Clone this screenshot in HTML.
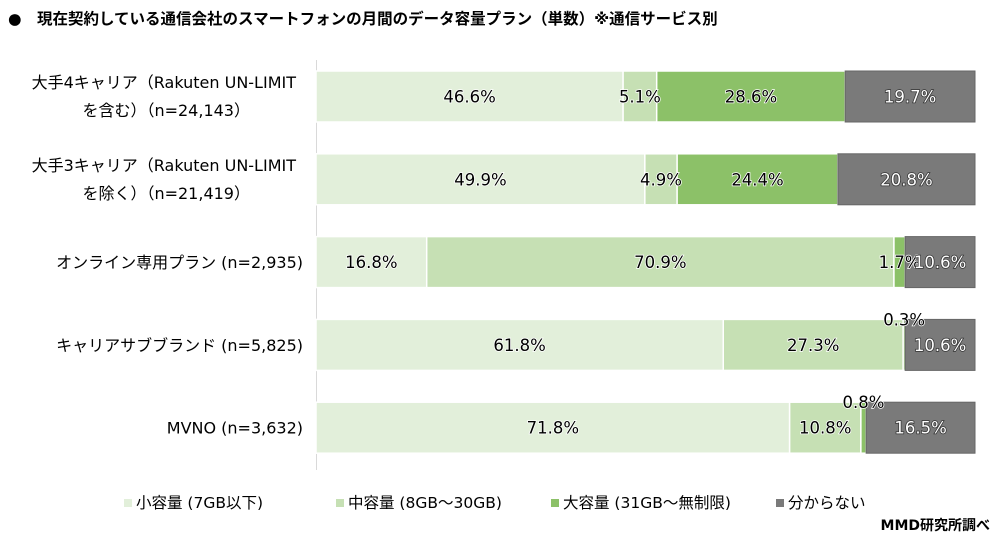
<!DOCTYPE html>
<html><head><meta charset="utf-8"><style>
body{margin:0;background:#fff;width:1000px;height:544px;overflow:hidden;font-family:"DejaVu Sans","Noto Sans CJK JP",sans-serif}
svg text{font-family:"DejaVu Sans","Noto Sans CJK JP",sans-serif}
</style></head><body>
<svg width="1000" height="544">
<text x="8" y="24" font-size="15.5" font-weight="bold" fill="#000">●　現在契約している通信会社のスマートフォンの月間のデータ容量プラン（単数）※通信サービス別</text>
<line x1="316.5" y1="60" x2="316.5" y2="470" stroke="#d9d9d9"/>
<g id="bars"></g>
<g id="labels"></g>
<g id="legend"></g>
<text x="990" y="530" font-size="14" font-weight="bold" text-anchor="end">MMD研究所調べ</text>
</svg>
<script>
const categories=[["大手4キャリア（Rakuten UN-LIMIT","を含む）（n=24,143）"],["大手3キャリア（Rakuten UN-LIMIT","を除く）（n=21,419）"],["オンライン専用プラン (n=2,935)"],["キャリアサブブランド (n=5,825)"],["MVNO (n=3,632)"]];
const seriesNames=["小容量 (7GB以下)","中容量 (8GB～30GB)","大容量 (31GB～無制限)","分からない"];
const small=[46.6,49.9,16.8,61.8,71.8];
const mid=[5.1,4.9,70.9,27.3,10.8];
const large=[28.6,24.4,1.7,0.3,0.8];
const unknown=[19.7,20.8,10.6,10.6,16.5];
const colors=["#e2efda","#c6e0b4","#8cc168","#7a7a7a"];
const NS="http://www.w3.org/2000/svg";
const x0=316,pw=659,y0=71,step=82.8,bh=51;
const xs=v=>v/100*pw;
const yRow=i=>y0+i*step;
const series=[small,mid,large,unknown];
const gb=document.getElementById('bars'),gl=document.getElementById('labels'),gg=document.getElementById('legend');
function mk(t,a,p){const e=document.createElementNS(NS,t);for(const k in a)e.setAttribute(k,a[k]);p.appendChild(e);return e;}
categories.forEach((c,i)=>{
  const y=yRow(i);
  let tot=series.reduce((s,a)=>s+a[i],0);
  let acc=0;
  series.forEach((s,j)=>{
    const v=s[i]/tot*100;
    const r=mk('rect',{x:x0+xs(acc),y:y,width:xs(v),height:bh,fill:colors[j],stroke:j==3?'#666':'#fff','stroke-width':j==3?1:1.5},gb);
    
    
    let cx=x0+xs(acc+v/2),cy=y+bh/2+6;
    if(s[i]<1){cy=y+6;}
    const t=mk('text',{x:cx,y:cy,'font-size':16.5,'text-anchor':'middle',fill:j==3?'#fff':'#000',stroke:j==3?'#333':'#fff','stroke-width':1.5,'paint-order':'stroke'},gl);
    t.textContent=s[i].toFixed(1)+'%';
    
    
    acc+=v;
  });
  if(c.length==2){
    const t1=mk('text',{x:296,y:y+17,'font-size':16,'text-anchor':'end'},gl);t1.textContent=c[0];
    
    
    const t2=mk('text',{x:250,y:y+45,'font-size':16,'text-anchor':'end'},gl);t2.textContent=c[1];
    
    
  } else {
    const t=mk('text',{x:303,y:y+bh/2+6,'font-size':16,'text-anchor':'end'},gl);t.textContent=c[0];
    
    
  }
});
const lx=[124,336,551,776];
seriesNames.forEach((n,j)=>{
  const g=mk('g',{},gg);
  
  
  mk('rect',{x:lx[j],y:499,width:8,height:8,fill:colors[j]},g);
  const t=mk('text',{x:lx[j]+12,y:508,'font-size':15.5},g);t.textContent=n;
});
</script>
</body></html>
